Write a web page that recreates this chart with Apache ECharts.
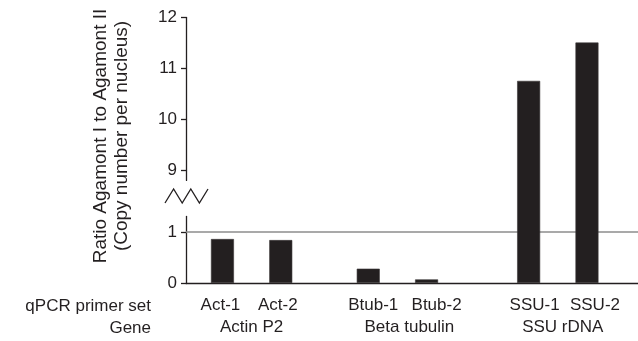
<!DOCTYPE html>
<html><head><meta charset="utf-8">
<script src="https://cdn.jsdelivr.net/npm/echarts@6/dist/echarts.min.js"></script>
<style>html,body{margin:0;padding:0;background:#fff}#c{width:638px;height:341px}</style>
</head><body><div id="c"></div>
<script>
// ---- data ----
const primerSets = ['Act-1', 'Act-2', 'Btub-1', 'Btub-2', 'SSU-1', 'SSU-2'];
const genes = ['Actin P2', 'Beta tubulin', 'SSU rDNA'];
const ratios = [0.86, 0.84, 0.28, 0.07, 10.75, 11.5];
const yTicks = [0, 1, 9, 10, 11, 12];
const breakRange = [1.3, 8.8];
const referenceValue = 1;

// ---- layout (not data) ----
const SLOT_COUNT = 31;
const primerSlots = [2, 6, 12, 16, 23, 27];
const geneSlots = [4, 14, 25];
const primerShift = [-2, -3, 5, 10, 6, 8];
const geneShift = [0, 12, 5];
const BREAK_GAP = 0.704; // visual gap of the break, in axis units
const INK = '#231f20';
const FONT = '"Liberation Sans", Arial, Helvetica, sans-serif';

const slots = [];
for (let i = 0; i < SLOT_COUNT; i++) slots.push('s' + i);
const barData = slots.map(() => '-');
primerSlots.forEach((s, i) => { barData[s] = ratios[i]; });

const rich = {};
function pad(shift) { return shift >= 0 ? [0, 0, 0, 2 * shift] : [0, -2 * shift, 0, 0]; }
primerSets.forEach((p, i) => {
  rich['p' + i] = { fontSize: 17, lineHeight: 20, color: INK, fontFamily: FONT, padding: pad(primerShift[i]) };
});
genes.forEach((g, i) => {
  rich['g' + i] = { fontSize: 17, lineHeight: 22, color: INK, fontFamily: FONT, padding: pad(geneShift[i]) };
});
rich.e = { fontSize: 17, lineHeight: 21 };

function labelFormatter(value, idx) {
  const pi = primerSlots.indexOf(idx);
  if (pi >= 0) return '{p' + pi + '|' + primerSets[pi] + '}';
  const gi = geneSlots.indexOf(idx);
  if (gi >= 0) return '{e| }\n{g' + gi + '|' + genes[gi] + '}';
  return '';
}

const chart = echarts.init(document.getElementById('c'), null, { renderer: 'canvas' });
chart.setOption({
  animation: false,
  backgroundColor: '#fff',
  grid: { left: 186, right: -4, top: 17, bottom: 58, containLabel: false },
  xAxis: {
    type: 'category',
    data: slots,
    axisTick: { show: false },
    axisLine: { lineStyle: { color: INK, width: 1.3 } },
    axisLabel: { interval: 0, margin: 12, formatter: labelFormatter, rich: rich, hideOverlap: false }
  },
  yAxis: {
    type: 'value', min: 0, max: 12, interval: 1,
    breaks: [{ start: breakRange[0], end: breakRange[1], gap: BREAK_GAP }],
    breakArea: { show: false },
    breakLabelLayout: { moveOverlap: false },
    axisLine: { show: true, lineStyle: { color: INK, width: 1.3 } },
    axisTick: { show: true, length: 5, customValues: yTicks, lineStyle: { color: INK, width: 1.3 } },
    axisLabel: {
      fontSize: 17, color: INK, fontFamily: FONT, margin: 9, customValues: yTicks,
      showMinLabel: true, showMaxLabel: true, hideOverlap: false,
      formatter: v => String(v)
    },
    splitLine: { show: false }
  },
  series: [
    {
      type: 'bar', data: barData, barWidth: 23, z: 10,
      itemStyle: { color: INK, borderColor: '#3a3637', borderWidth: 0.6 }
    },
    {
      type: 'line', data: [], z: 1, silent: true,
      markLine: {
        silent: true, symbol: 'none', z: 1,
        label: { show: false },
        lineStyle: { color: '#8c8c8c', width: 1.6, type: 'solid' },
        data: [{ yAxis: referenceValue }]
      }
    }
  ],
  graphic: [
    { type: 'rect', z: 100, shape: { x: 181, y: 181, width: 9, height: 34 }, style: { fill: '#fff' } },
    { type: 'polyline', z: 101, shape: { points: [[165, 203], [173.6, 189], [182.2, 203], [190.8, 189], [199.4, 203], [208, 189]] },
      style: { stroke: INK, lineWidth: 1.3, fill: null } },
    { type: 'text', z: 101, x: 111, y: 136, rotation: Math.PI / 2,
      style: { text: 'Ratio Agamont I to Agamont II\n(Copy number per nucleus)', fontSize: 19, lineHeight: 21,
        fontFamily: FONT, fill: INK, align: 'center', verticalAlign: 'middle' } },
    { type: 'text', z: 101, x: 151, y: 306,
      style: { text: 'qPCR primer set', fontSize: 17, fontFamily: FONT, fill: INK, align: 'right', verticalAlign: 'middle' } },
    { type: 'text', z: 101, x: 151, y: 328,
      style: { text: 'Gene', fontSize: 17, fontFamily: FONT, fill: INK, align: 'right', verticalAlign: 'middle' } }
  ]
});
</script>
</body></html>
